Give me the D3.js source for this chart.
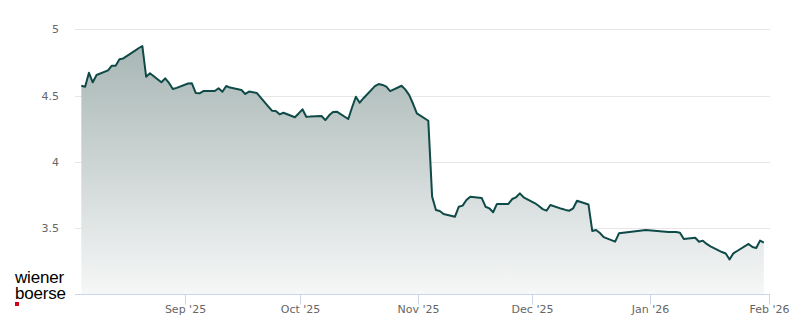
<!DOCTYPE html>
<html>
<head>
<meta charset="utf-8">
<script src="https://cdn.jsdelivr.net/npm/d3@7"></script>
<style>
	body { margin:0; background:#ffffff; }
	svg  { display:block; font-family:"DejaVu Sans", sans-serif; }
</style>
</head>
<body>
<div id="div_Chart"></div>
<script>
//=======================================================================
// closing prices, one per trading day
var tradeDates = [
	"2025-08-04","2025-08-05","2025-08-06","2025-08-07","2025-08-08",
	"2025-08-11","2025-08-12","2025-08-13","2025-08-14","2025-08-15",
	"2025-08-18","2025-08-19","2025-08-20","2025-08-21","2025-08-22",
	"2025-08-25","2025-08-26","2025-08-27","2025-08-28","2025-08-29",
	"2025-09-01","2025-09-02","2025-09-03","2025-09-04","2025-09-05",
	"2025-09-08","2025-09-09","2025-09-10","2025-09-11","2025-09-12",
	"2025-09-15","2025-09-16","2025-09-17","2025-09-18","2025-09-19",
	"2025-09-22","2025-09-23","2025-09-24","2025-09-25","2025-09-26",
	"2025-09-29","2025-09-30","2025-10-01","2025-10-02","2025-10-03",
	"2025-10-06","2025-10-07","2025-10-08","2025-10-09","2025-10-10",
	"2025-10-13","2025-10-14","2025-10-15","2025-10-16","2025-10-17",
	"2025-10-20","2025-10-21","2025-10-22","2025-10-23","2025-10-24",
	"2025-10-27","2025-10-28","2025-10-29","2025-10-30","2025-10-31",
	"2025-11-03","2025-11-04","2025-11-05","2025-11-06","2025-11-07",
	"2025-11-10","2025-11-11","2025-11-12","2025-11-13","2025-11-14",
	"2025-11-17","2025-11-18","2025-11-19","2025-11-20","2025-11-21",
	"2025-11-24","2025-11-25","2025-11-26","2025-11-27","2025-11-28",
	"2025-12-01","2025-12-02","2025-12-03","2025-12-04","2025-12-05",
	"2025-12-08","2025-12-09","2025-12-10","2025-12-11","2025-12-12",
	"2025-12-15","2025-12-16","2025-12-17","2025-12-18","2025-12-19",
	"2025-12-22","2025-12-23","2025-12-29","2025-12-30","2026-01-02",
	"2026-01-05","2026-01-06","2026-01-07","2026-01-08","2026-01-09",
	"2026-01-12","2026-01-13","2026-01-14","2026-01-15","2026-01-16",
	"2026-01-19","2026-01-20","2026-01-21","2026-01-22","2026-01-23",
	"2026-01-26","2026-01-27","2026-01-28","2026-01-29","2026-01-30"
];
var closePrices = [
	4.574,4.567,4.672,4.600,4.655,
	4.690,4.725,4.725,4.774,4.780,
	4.837,4.857,4.874,4.642,4.668,
	4.600,4.630,4.595,4.550,4.558,
	4.591,4.592,4.520,4.517,4.534,
	4.534,4.555,4.529,4.572,4.560,
	4.542,4.512,4.530,4.525,4.520,
	4.419,4.386,4.383,4.358,4.370,
	4.336,4.365,4.396,4.340,4.341,
	4.346,4.315,4.351,4.376,4.378,
	4.323,4.410,4.491,4.446,4.480,
	4.571,4.587,4.580,4.567,4.534,
	4.574,4.545,4.503,4.438,4.366,
	4.310,3.737,3.636,3.629,3.606,
	3.586,3.661,3.669,3.712,3.737,
	3.727,3.661,3.649,3.619,3.682,
	3.682,3.719,3.732,3.762,3.732,
	3.687,3.666,3.643,3.631,3.674,
	3.645,3.637,3.631,3.649,3.706,
	3.678,3.478,3.485,3.463,3.432,
	3.397,3.460,3.482,3.485,3.478,
	3.470,3.470,3.470,3.465,3.417,
	3.427,3.397,3.405,3.380,3.362,
	3.319,3.308,3.263,3.309,3.327,
	3.380,3.357,3.350,3.405,3.390
];
var yTickValues = [3.5, 4, 4.5, 5];
var monthTicks  = ["2025-09-01","2025-10-01","2025-11-01","2025-12-01","2026-01-01","2026-02-01"];
var logoLines   = ["wiener", "boerse"];
//-----------------------------------------------------------------------
var v_Width = 800, v_Height = 324;
var v_PlotLeft = 75, v_PlotRight = 770;
var v_CloseMinutes = 17*60 + 30;   // prices are stamped at the close

var f_parse = d3.timeParse("%Y-%m-%d");

var v_Data = tradeDates.map(function(d, i){
	return { date: d3.timeMinute.offset(f_parse(d), v_CloseMinutes), value: closePrices[i] };
});

var xScale = d3.scaleTime()
				.domain([f_parse("2025-09-01"), f_parse("2026-02-01")])
				.range([185.3, 768.7]);
var yScale = d3.scaleLinear()
				.domain([3, 5])
				.range([294.3, 29.3]);

var v_Canvas = d3.select("#div_Chart")
					.append("svg")
					.attr("width",  v_Width)
					.attr("height", v_Height);

//-----------------------------------------------------------------------
// area gradient
var v_Grad = v_Canvas.append("defs")
					.append("linearGradient")
					.attr("id", "areaGrad")
					.attr("gradientUnits", "userSpaceOnUse")
					.attr("x1", 0).attr("x2", 0)
					.attr("y1", yScale(5)).attr("y2", yScale(3));
v_Grad.append("stop").attr("offset", "0%").attr("stop-color", "#a2b2b0");
v_Grad.append("stop").attr("offset", "100%").attr("stop-color", "#f6f7f7");

// grid lines
v_Canvas.selectAll("line.grid")
			.data(yTickValues)
			.enter()
				.append("line")
				.attr("class", "grid")
				.attr("x1", v_PlotLeft)
				.attr("x2", v_PlotRight)
				.attr("y1", function(d){return Math.round(yScale(d)) + 0.5;})
				.attr("y2", function(d){return Math.round(yScale(d)) + 0.5;})
				.attr("stroke", "#e6e6e6")
				.attr("stroke-width", 1);

v_Canvas.selectAll("text.ylab")
			.data(yTickValues)
			.enter()
				.append("text")
				.attr("class", "ylab")
				.attr("x", 59)
				.attr("y", function(d){return yScale(d) + 4;})
				.attr("text-anchor", "end")
				.attr("font-size", "11px")
				.attr("fill", "#666666")
				.text(function(d){return d3.format("")(d);});

//-----------------------------------------------------------------------
// price area + line
var f_area = d3.area()
				.x(function(d){return xScale(d.date);})
				.y0(yScale(3))
				.y1(function(d){return yScale(d.value);});
var f_line = d3.line()
				.x(function(d){return xScale(d.date);})
				.y(function(d){return yScale(d.value);});

v_Canvas.append("path")
			.datum(v_Data)
			.attr("d", f_area)
			.attr("fill", "url(#areaGrad)");

v_Canvas.append("path")
			.datum(v_Data)
			.attr("d", f_line)
			.attr("fill", "none")
			.attr("stroke", "#0e4a47")
			.attr("stroke-width", 2)
			.attr("stroke-linejoin", "round");

//-----------------------------------------------------------------------
// x axis
var v_AxisY = Math.round(yScale(3)) + 0.5;
v_Canvas.append("line")
			.attr("x1", v_PlotLeft)
			.attr("x2", v_PlotRight)
			.attr("y1", v_AxisY)
			.attr("y2", v_AxisY)
			.attr("stroke", "#ccd6eb");

var f_fmtMonth = d3.timeFormat("%b '%y");
var v_Ticks = v_Canvas.selectAll("g.xtick")
			.data(monthTicks.map(f_parse))
			.enter()
				.append("g")
				.attr("class", "xtick")
				.attr("transform", function(d){return "translate(" + (Math.round(xScale(d)) + 0.5) + ",0)";});
v_Ticks.append("line")
			.attr("y1", v_AxisY)
			.attr("y2", v_AxisY + 10)
			.attr("stroke", "#ccd6eb");
v_Ticks.append("text")
			.attr("y", 313)
			.attr("text-anchor", "middle")
			.attr("font-size", "11px")
			.attr("fill", "#666666")
			.text(function(d){return f_fmtMonth(d);});

//-----------------------------------------------------------------------
// logo (two lines in one text block)
v_Canvas.append("text")
			.attr("x", 15)
			.attr("y", 282.5)
			.attr("font-family", "'Liberation Sans', Arial, sans-serif")
			.attr("font-size", "17px")
			.attr("letter-spacing", "-0.2px")
			.attr("fill", "#000000")
			.selectAll("tspan")
			.data(logoLines)
			.enter()
				.append("tspan")
				.attr("x", 15)
				.attr("dy", function(d,i){return i === 0 ? 0 : 16;})
				.text(function(d){return d;});
v_Canvas.append("rect")
			.attr("x", 15)
			.attr("y", 302)
			.attr("width", 4)
			.attr("height", 4)
			.attr("fill", "#d1001c");
//======================================================================
</script>
</body>
</html>
